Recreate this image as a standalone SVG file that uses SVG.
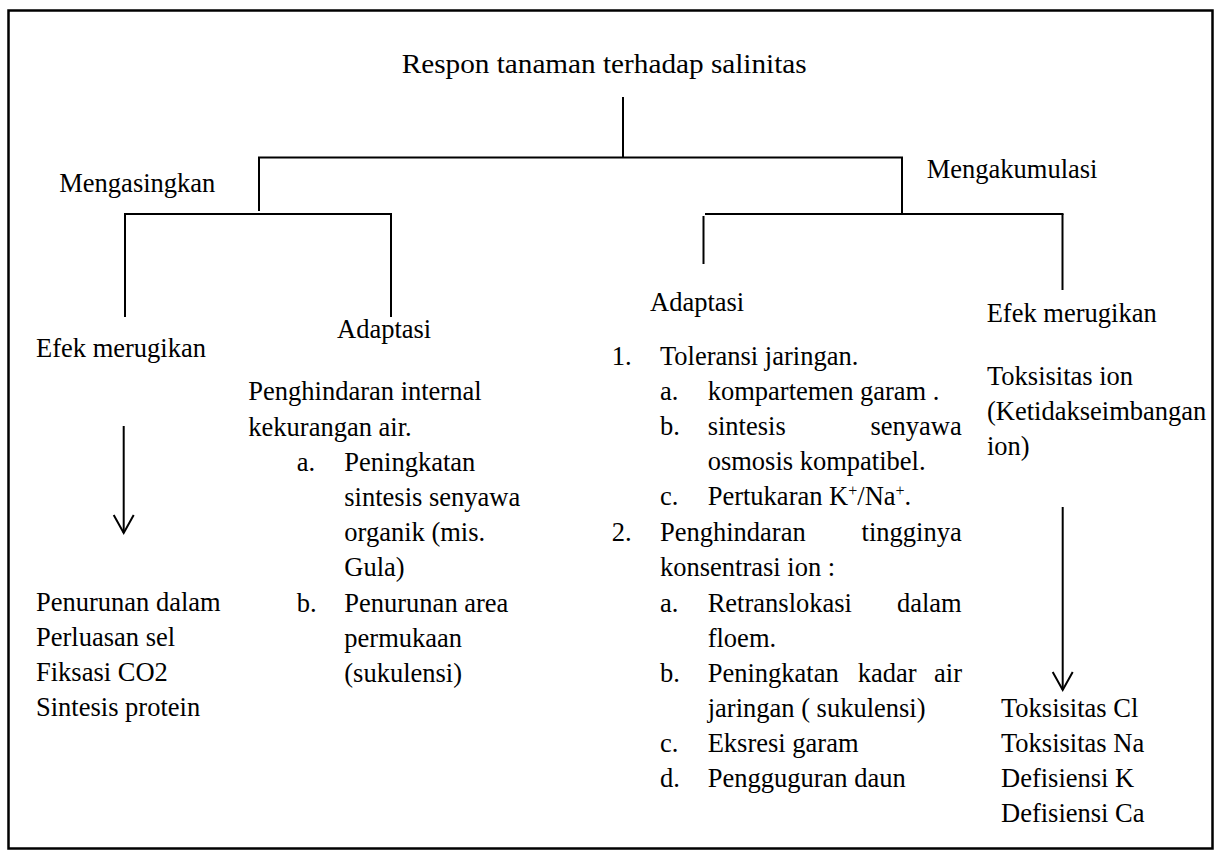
<svg xmlns="http://www.w3.org/2000/svg" width="1221" height="855" viewBox="0 0 1221 855">
<style>
text{font-family:"Liberation Serif",serif;fill:#000}
.t{font-size:26.5px}
.ttl{font-size:28px}
.ln{stroke:#000;stroke-width:2;fill:none}
.e{text-anchor:end}
</style>
<defs>
<marker id="arr" markerWidth="24" markerHeight="24" refX="19" refY="11" orient="auto" markerUnits="userSpaceOnUse" viewBox="0 0 24 24">
<path d="M1,1 L19,11 L1,21" fill="none" stroke="#000" stroke-width="2"/>
</marker>
</defs>
<rect x="8.5" y="10.5" width="1204" height="838" fill="#fff" stroke="#000" stroke-width="2.5"/>

<g id="connectors">
<line class="ln" x1="623" y1="97" x2="623" y2="157.5"/>
<line class="ln" x1="258" y1="157.5" x2="903" y2="157.5"/>
<line class="ln" x1="259" y1="157.5" x2="259" y2="211"/>
<line class="ln" x1="902" y1="157.5" x2="902" y2="214"/>
<line class="ln" x1="124" y1="214" x2="392" y2="214"/>
<line class="ln" x1="125" y1="214" x2="125" y2="317"/>
<line class="ln" x1="391" y1="214" x2="391" y2="317"/>
<line class="ln" x1="705" y1="214" x2="1063.5" y2="214"/>
<line class="ln" x1="703.5" y1="216" x2="703.5" y2="264"/>
<line class="ln" x1="1062.5" y1="214" x2="1062.5" y2="290"/>
<line class="ln" x1="123.7" y1="426" x2="123.7" y2="533" marker-end="url(#arr)"/>
<line class="ln" x1="1062.7" y1="507" x2="1062.7" y2="690" marker-end="url(#arr)"/>
</g>

<g id="root"><text class="ttl" x="401.7" y="73.3" textLength="405" lengthAdjust="spacingAndGlyphs">Respon tanaman terhadap salinitas</text></g>
<g id="mengasingkan"><text class="t" x="59.3" y="192.3">Mengasingkan</text></g>
<g id="mengakumulasi"><text class="t" x="926.7" y="178.3">Mengakumulasi</text></g>

<g id="efek-kiri"><text class="t" x="36" y="356.7">Efek merugikan</text></g>
<g id="adaptasi-kiri"><text class="t" x="337" y="338.3">Adaptasi</text></g>
<g id="adaptasi-kanan"><text class="t" x="650" y="311">Adaptasi</text></g>
<g id="efek-kanan"><text class="t" x="986.7" y="321.7">Efek merugikan</text></g>

<g id="hasil-kiri">
<text class="t" x="36" y="611">Penurunan dalam</text>
<text class="t" x="36" y="646">Perluasan sel</text>
<text class="t" x="36" y="681">Fiksasi CO2</text>
<text class="t" x="36" y="716">Sintesis protein</text>
</g>

<g id="adaptasi-kiri-isi">
<text class="t" x="248.3" y="400">Penghindaran internal</text>
<text class="t" x="248.3" y="436">kekurangan air.</text>
<text class="t" x="296.7" y="470.7">a.</text>
<text class="t" x="344.3" y="470.7">Peningkatan</text>
<text class="t" x="344.3" y="505.7">sintesis senyawa</text>
<text class="t" x="344.3" y="540.7">organik (mis.</text>
<text class="t" x="344.3" y="576">Gula)</text>
<text class="t" x="296.7" y="611.7">b.</text>
<text class="t" x="344.3" y="611.7">Penurunan area</text>
<text class="t" x="344.3" y="646.7">permukaan</text>
<text class="t" x="344.3" y="681.7">(sukulensi)</text>
</g>

<g id="adaptasi-kanan-isi">
<text class="t" x="611.7" y="365">1.</text>
<text class="t" x="660" y="365">Toleransi jaringan.</text>
<text class="t" x="660" y="400">a.</text>
<text class="t" x="707.7" y="400">kompartemen garam .</text>
<text class="t" x="660" y="435">b.</text>
<text class="t" x="707.7" y="435">sintesis</text>
<text class="t e" x="961.7" y="435">senyawa</text>
<text class="t" x="707.7" y="470">osmosis kompatibel.</text>
<text class="t" x="660" y="505">c.</text>
<text class="t" x="707.7" y="505">Pertukaran K<tspan dy="-9" font-size="16">+</tspan><tspan dy="9">/Na</tspan><tspan dy="-9" font-size="16">+</tspan><tspan dy="9">.</tspan></text>
<text class="t" x="611.7" y="540.7">2.</text>
<text class="t" x="660" y="540.7">Penghindaran</text>
<text class="t e" x="961.7" y="540.7">tingginya</text>
<text class="t" x="660" y="576">konsentrasi ion :</text>
<text class="t" x="660" y="611.7">a.</text>
<text class="t" x="707.7" y="611.7">Retranslokasi</text>
<text class="t e" x="961.7" y="611.7">dalam</text>
<text class="t" x="707.7" y="646.7">floem.</text>
<text class="t" x="660" y="681.7">b.</text>
<text class="t" x="707.7" y="681.7">Peningkatan</text>
<text class="t" x="857.7" y="681.7">kadar</text>
<text class="t e" x="962" y="681.7">air</text>
<text class="t" x="707.7" y="716.7">jaringan ( sukulensi)</text>
<text class="t" x="660" y="751.7">c.</text>
<text class="t" x="707.7" y="751.7">Eksresi garam</text>
<text class="t" x="660" y="786.7">d.</text>
<text class="t" x="707.7" y="786.7">Pengguguran daun</text>
</g>

<g id="efek-kanan-isi">
<text class="t" x="987" y="385">Toksisitas ion</text>
<text class="t" x="987" y="420">(Ketidakseimbangan</text>
<text class="t" x="987" y="455">ion)</text>
</g>

<g id="hasil-kanan">
<text class="t" x="1001" y="716.7">Toksisitas Cl</text>
<text class="t" x="1001" y="751.7">Toksisitas Na</text>
<text class="t" x="1001" y="786.7">Defisiensi K</text>
<text class="t" x="1001" y="821.7">Defisiensi Ca</text>
</g>
</svg>
